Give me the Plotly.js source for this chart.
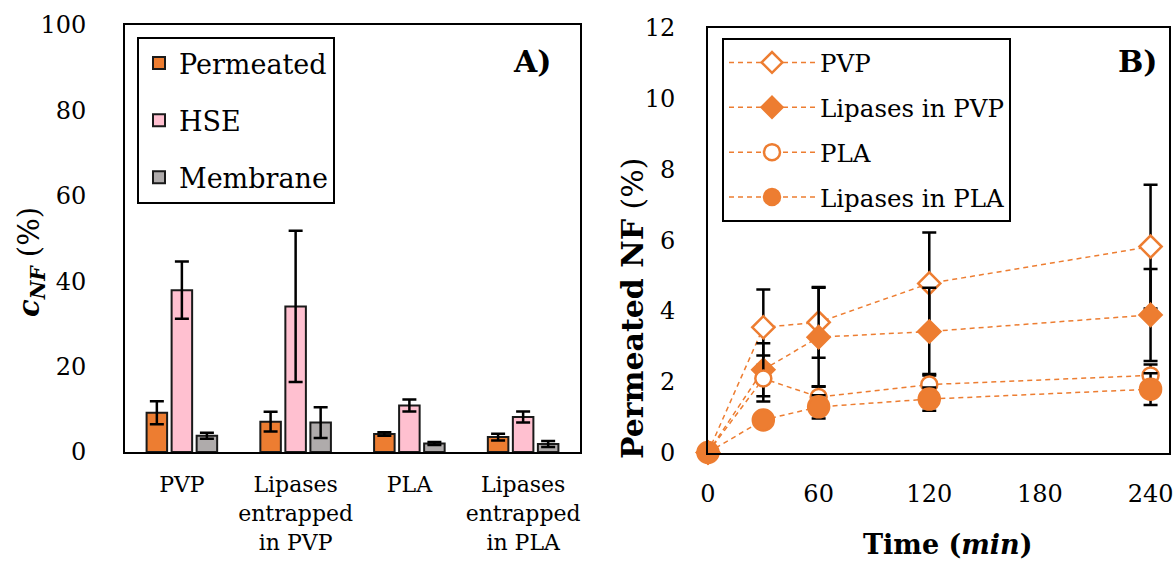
<!DOCTYPE html>
<html>
<head>
<meta charset="utf-8">
<script src="https://cdn.plot.ly/plotly-3.0.1.min.js"></script>
<style>html,body{margin:0;padding:0;background:#fff;}#chart{width:1176px;height:562px;}</style>
</head>
<body>
<div id="chart"></div>
<script>
// ---------- Panel A data ----------
const categories = ["PVP", "Lipases<br>entrapped<br>in PVP", "PLA", "Lipases<br>entrapped<br>in PLA"];
const permeated = [9.2, 7.1, 4.2, 3.5];
const permeatedErr = [2.7, 2.3, 0.4, 0.8];
const hse = [37.9, 34.1, 10.9, 8.2];
const hseErr = [6.7, 17.7, 1.4, 1.3];
const membrane = [3.8, 6.9, 2.0, 1.9];
const membraneErr = [0.7, 3.6, 0.35, 0.7];

// ---------- Panel B data ----------
const time = [0, 30, 60, 120, 240];
const pvp = [0, 3.54, 3.68, 4.78, 5.82];
const pvpErr = [0, 1.07, 1.0, 1.44, 1.75];
const lipPvp = [0, 2.34, 3.26, 3.42, 3.89];
const lipPvpErr = [0, 0.75, 1.4, 1.24, 1.3];
const pla = [0, 2.09, 1.57, 1.92, 2.18];
const plaErr = [0, 0.65, 0.3, 0.3, 0.31];
const lipPla = [0, 0.92, 1.29, 1.51, 1.79];
const lipPlaErr = [0, 0.1, 0.33, 0.33, 0.45];

const ORANGE = '#ED7D31';
const PINK = '#FFC0D0';
const GRAY = '#AFABAB';
const SERIF = '"DejaVu Serif", "Liberation Serif", serif';

function barTrace(name, y, err, color, grp) {
  return {
    type: 'bar', name: name, x: categories, y: y,
    xaxis: 'x', yaxis: 'y', legend: 'legend', legendgroup: grp,
    marker: {color: color, line: {color: '#1a1a1a', width: 2}},
    error_y: {type: 'data', array: err, visible: true, color: '#000', thickness: 2.5, width: 7}
  };
}

function lineTrace(name, y, err, symbol, fill, size, grp) {
  return {
    type: 'scatter', mode: 'lines+markers', name: name, x: time, y: y,
    xaxis: 'x2', yaxis: 'y2', legend: 'legend2', legendgroup: grp, cliponaxis: false,
    line: {color: ORANGE, width: 1.5, dash: '5px,4px'},
    marker: {symbol: symbol, size: size, color: fill, line: {color: ORANGE, width: 2.5}},
    error_y: {type: 'data', array: err, visible: true, color: '#000', thickness: 2.5, width: 7}
  };
}

const data = [
  barTrace('Permeated', permeated, permeatedErr, ORANGE, 'a1'),
  barTrace('HSE', hse, hseErr, PINK, 'a2'),
  barTrace('Membrane', membrane, membraneErr, GRAY, 'a3'),
  lineTrace('PVP', pvp, pvpErr, 'diamond', '#ffffff', 17, 'b1'),
  lineTrace('Lipases in PVP', lipPvp, lipPvpErr, 'diamond', ORANGE, 17, 'b2'),
  lineTrace('PLA', pla, plaErr, 'circle', '#ffffff', 16, 'b3'),
  lineTrace('Lipases in PLA', lipPla, lipPlaErr, 'circle', ORANGE, 21, 'b4')
];

const tickFont = {family: SERIF, size: 24, color: '#000'};

const layout = {
  width: 1176, height: 562,
  margin: {l: 0, r: 0, t: 0, b: 0},
  paper_bgcolor: '#fff', plot_bgcolor: '#fff',
  font: {family: SERIF, color: '#000'},
  barmode: 'group', bargap: 0.34, bargroupgap: 0.18,
  xaxis: {
    domain: [125/1176, 580/1176], anchor: 'y',
    showline: true, linecolor: '#000', linewidth: 2, mirror: true,
    ticks: '', showgrid: false, zeroline: false,
    tickfont: {family: SERIF, size: 22, color: '#000'}, ticklabelstandoff: 12
  },
  yaxis: {
    domain: [1 - 452/562, 1 - 25/562], anchor: 'x',
    range: [0, 100], tickvals: [0, 20, 40, 60, 80, 100],
    showline: true, linecolor: '#000', linewidth: 2, mirror: true,
    ticks: '', showgrid: false, zeroline: false,
    tickfont: tickFont, ticklabelstandoff: 32
  },
  xaxis2: {
    domain: [708/1176, 1169/1176], anchor: 'y2',
    range: [0, 250], tickvals: [0, 60, 120, 180, 240],
    showline: true, linecolor: '#000', linewidth: 2, mirror: true,
    ticks: '', showgrid: false, zeroline: false,
    tickfont: tickFont, ticklabelstandoff: 19
  },
  yaxis2: {
    domain: [1 - 452.5/562, 1 - 28/562], anchor: 'x2',
    range: [0, 12], tickvals: [0, 2, 4, 6, 8, 10, 12],
    showline: true, linecolor: '#000', linewidth: 2, mirror: true,
    ticks: '', showgrid: false, zeroline: false,
    tickfont: tickFont, ticklabelstandoff: 26
  },
  legend: {
    x: 137/1176, y: 1 - 37/562, xanchor: 'left', yanchor: 'top',
    bgcolor: '#fff', bordercolor: '#000', borderwidth: 2,
    font: {family: SERIF, size: 27, color: '#000'}, tracegroupgap: 19
  },
  legend2: {
    x: 722/1176, y: 1 - 38/562, xanchor: 'left', yanchor: 'top',
    bgcolor: '#fff', bordercolor: '#000', borderwidth: 2, itemwidth: 86,
    font: {family: SERIF, size: 24.5, color: '#000'}, tracegroupgap: 10
  },
  annotations: [
    {text: '<b>A)</b>', x: 553/1176, y: 1 - 62/562, xref: 'paper', yref: 'paper', xanchor: 'right', yanchor: 'middle', showarrow: false, font: {family: SERIF, size: 30, color: '#000'}},
    {text: '<b>B)</b>', x: 1160/1176, y: 1 - 62/562, xref: 'paper', yref: 'paper', xanchor: 'right', yanchor: 'middle', showarrow: false, font: {family: SERIF, size: 30, color: '#000'}},
    {text: '<b><i>c</i></b><sub><b><i>NF</i></b></sub> (%)', textangle: -90, x: 31/1176, y: 1 - 262/562, xref: 'paper', yref: 'paper', xanchor: 'center', yanchor: 'middle', showarrow: false, font: {family: SERIF, size: 29, color: '#000'}},
    {text: '<b>Permeated NF</b> (%)', textangle: -90, x: 632/1176, y: 1 - 309/562, xref: 'paper', yref: 'paper', xanchor: 'center', yanchor: 'middle', showarrow: false, font: {family: SERIF, size: 30, color: '#000'}},
    {text: '<b>Time (<i>min</i>)</b>', x: 948/1176, y: 0, xref: 'paper', yref: 'paper', xanchor: 'center', yanchor: 'bottom', showarrow: false, font: {family: SERIF, size: 27, color: '#000'}}
  ]
};

Plotly.newPlot('chart', data, layout, {displayModeBar: false, staticPlot: true});
</script>
</body>
</html>
